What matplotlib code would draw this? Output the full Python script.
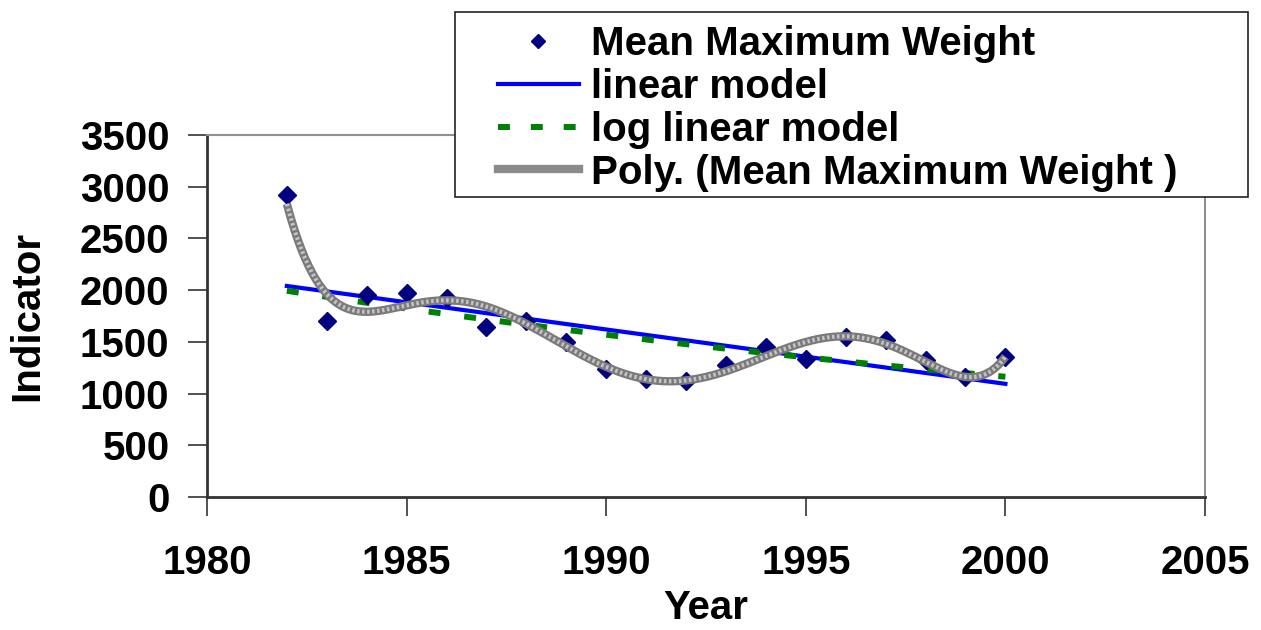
import numpy as np
import matplotlib
matplotlib.use("Agg")
import matplotlib.pyplot as plt
from matplotlib.lines import Line2D
from matplotlib.patches import Rectangle

plt.rcParams['font.family'] = ['Liberation Sans', 'DejaVu Sans']
plt.rcParams['font.weight'] = 'bold'

# yearly mean maximum weight
years = [1982, 1983, 1984, 1985, 1986, 1987, 1988, 1989, 1990, 1991,
         1992, 1993, 1994, 1995, 1996, 1997, 1998, 1999, 2000]
weights = [2920, 1700, 1950, 1975, 1920, 1645, 1705, 1495, 1236, 1139,
           1123, 1281, 1452, 1332, 1548, 1516, 1329, 1161, 1349]

x_ticks = [1980, 1985, 1990, 1995, 2000, 2005]
y_ticks = [0, 500, 1000, 1500, 2000, 2500, 3000, 3500]

x = np.array(years, dtype=float)
y = np.array(weights, dtype=float)
t = x - x[0]
xs = np.linspace(x[0], x[-1], 400)
ts = xs - x[0]

# trend models fitted to the series
lin = np.polyval(np.polyfit(t, y, 1), ts)
loglin = np.exp(np.polyval(np.polyfit(t, np.log(y), 1), ts))
poly = np.polyval(np.polyfit(t / 18, y, 6), ts / 18)

fig = plt.figure(figsize=(12.61, 6.30), dpi=100)
ax = fig.add_axes([207 / 1261, 1 - 497 / 630, 998 / 1261, 362 / 630])

ax.plot(xs, lin, color='#0000ff', lw=3, zorder=2)
ax.plot(xs, loglin, color='#008000', lw=4.3, dashes=(2, 4),
        dash_capstyle='butt', zorder=2)
ax.plot(x, y, 'D', color='#000080', ms=9, mec='#000080', zorder=3)
ax.plot(xs, poly, color='#7a7a7a', lw=6, solid_capstyle='butt', zorder=4)
ax.plot(xs, poly, color='#c4c4c4', lw=3, dashes=(0.6, 0.6), zorder=5)

ax.set_xlim(1980, 2005)
ax.set_ylim(0, 3500)
ax.set_xticks(x_ticks)
ax.set_yticks(y_ticks)
ax.tick_params(axis='both', direction='out', length=14, width=1.2,
               labelsize=29, color='#333333')
ax.tick_params(axis='x', pad=20)
ax.tick_params(axis='y', pad=13)
for lab in ax.get_xticklabels() + ax.get_yticklabels():
    lab.set_fontweight('bold')

for side in ['top', 'right']:
    ax.spines[side].set_color('#909090')
    ax.spines[side].set_linewidth(1.5)
for side in ['left', 'bottom']:
    ax.spines[side].set_color('#333333')
    ax.spines[side].set_linewidth(2)

ax.set_xlabel('Year', fontsize=29, fontweight='bold', labelpad=5)
ax.set_ylabel('Indicator', fontsize=29, fontweight='bold', labelpad=24)

# legend box sits over the top right of the plot
fig.patches.append(Rectangle((455 / 1261, 1 - 197 / 630), 793 / 1261, 185 / 630,
                             transform=fig.transFigure, facecolor='white',
                             edgecolor='#222222', lw=1.2, zorder=10))
handles = [
    Line2D([], [], ls='none', marker='D', color='#000080', ms=7),
    Line2D([], [], color='#0000ff', lw=3),
    Line2D([], [], color='#008000', lw=4.3, dashes=(2, 3.5), dash_capstyle='butt'),
    Line2D([], [], color='#8a8a8a', lw=6),
]
labels = ['Mean Maximum Weight', 'linear model', 'log linear model',
          'Poly. (Mean Maximum Weight )']
leg = fig.legend(handles, labels, loc='upper left',
                 bbox_to_anchor=(490 / 1261, 1 - 17 / 630),
                 frameon=False, prop={'weight': 'bold', 'size': 29},
                 handlelength=2.0, handletextpad=0.3, labelspacing=0.12,
                 borderpad=0.2, borderaxespad=0)
leg.set_zorder(11)

fig.savefig('out.png', dpi=100)
